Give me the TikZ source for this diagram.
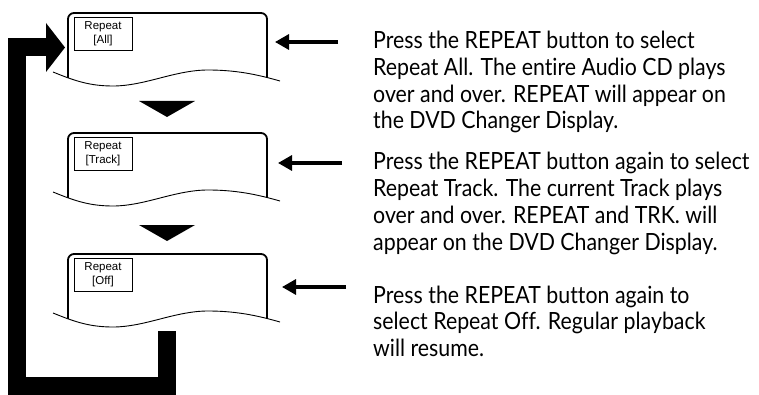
\documentclass[tikz,border=0pt]{standalone}
\usepackage{fontspec}
\setmainfont{Lato}[FakeStretch=0.9, Ligatures={NoCommon,NoRare}]
\newfontfamily\labelfont{Liberation Sans}
\usetikzlibrary{arrows.meta}
\newcommand\screenbox[3]{%
  \begin{scope}
    \clip (53,#1+59) .. controls (75,#1+68) and (90,#1+73) .. (113,#1+73)
      .. controls (145,#1+73) and (175,#1+57) .. (208,#1+57)
      .. controls (240,#1+57) and (262,#1+63) .. (280,#1+68)
      -- (300,#1+68) -- (300,#1-10) -- (40,#1-10) -- cycle;
    \draw[screenline] (68,#1+80) -- (68,#1) -- (267,#1) -- (267,#1+80);
  \end{scope}
  \draw[waveline] (53,#1+59) .. controls (75,#1+68) and (90,#1+73) .. (113,#1+73)
      .. controls (145,#1+73) and (175,#1+57) .. (208,#1+57)
      .. controls (240,#1+57) and (262,#1+63) .. (280,#1+68);
  \node[labelbox] (#2) at (103,#1+20.5) {Repeat\\{}#3};
}
\begin{document}
\begin{tikzpicture}[x=1pt,y=-1pt,
  screenline/.style={line width=1.8pt, rounded corners=6pt},
  waveline/.style={line width=0.9pt},
  labelbox/.style={draw, line width=0.8pt, minimum width=58pt, minimum height=33pt,
    inner sep=0pt, align=center, font=\labelfont\fontsize{11.5}{13.5}\selectfont},
  pointer/.style={line width=3.2pt, -{Triangle[length=14pt,width=15pt]}},
  loopbar/.style={line width=18pt, line join=miter},
  desc/.style={anchor=base west, inner sep=0pt, align=left,
    font=\fontsize{23.7}{26.7}\selectfont}]
\useasboundingbox (0,0) rectangle (759,395);

\screenbox{13}{all}{[All]}
\screenbox{133}{track}{[Track]}
\screenbox{254}{off}{[Off]}

% step triangles
\fill (139,101) -- (195,101) -- (167,117) -- cycle;
\fill (139,225) -- (195,225) -- (167,241) -- cycle;

% loop back bracket
\draw[loopbar] (167,331) -- (167,386) -- (17,386) -- (17,47.5) -- (47,47.5);
\fill (46,23) -- (65,47.5) -- (46,72) -- cycle;

% descriptions (anchored at the baseline of the last line)
\node[desc] (t1) at (373,129) {Press the REPEAT button to select\\Repeat All. The entire Audio CD plays\\over and over. REPEAT will appear on\\the DVD Changer Display.};
\node[desc] (t2) at (373,250) {Press the REPEAT button again to select\\Repeat Track. The current Track plays\\over and over. REPEAT and TRK. will\\appear on the DVD Changer Display.};
\node[desc] (t3) at (373,356.5) {Press the REPEAT button again to\\select Repeat Off. Regular playback\\will resume.};

\coordinate (a1s) at (338,42);  \coordinate (a1e) at (275,42);
\coordinate (a2s) at (342,163); \coordinate (a2e) at (278,163);
\coordinate (a3s) at (346,287); \coordinate (a3e) at (282,287);
\draw[pointer] (a1s) -- (a1e);
\draw[pointer] (a2s) -- (a2e);
\draw[pointer] (a3s) -- (a3e);
\end{tikzpicture}
\end{document}
